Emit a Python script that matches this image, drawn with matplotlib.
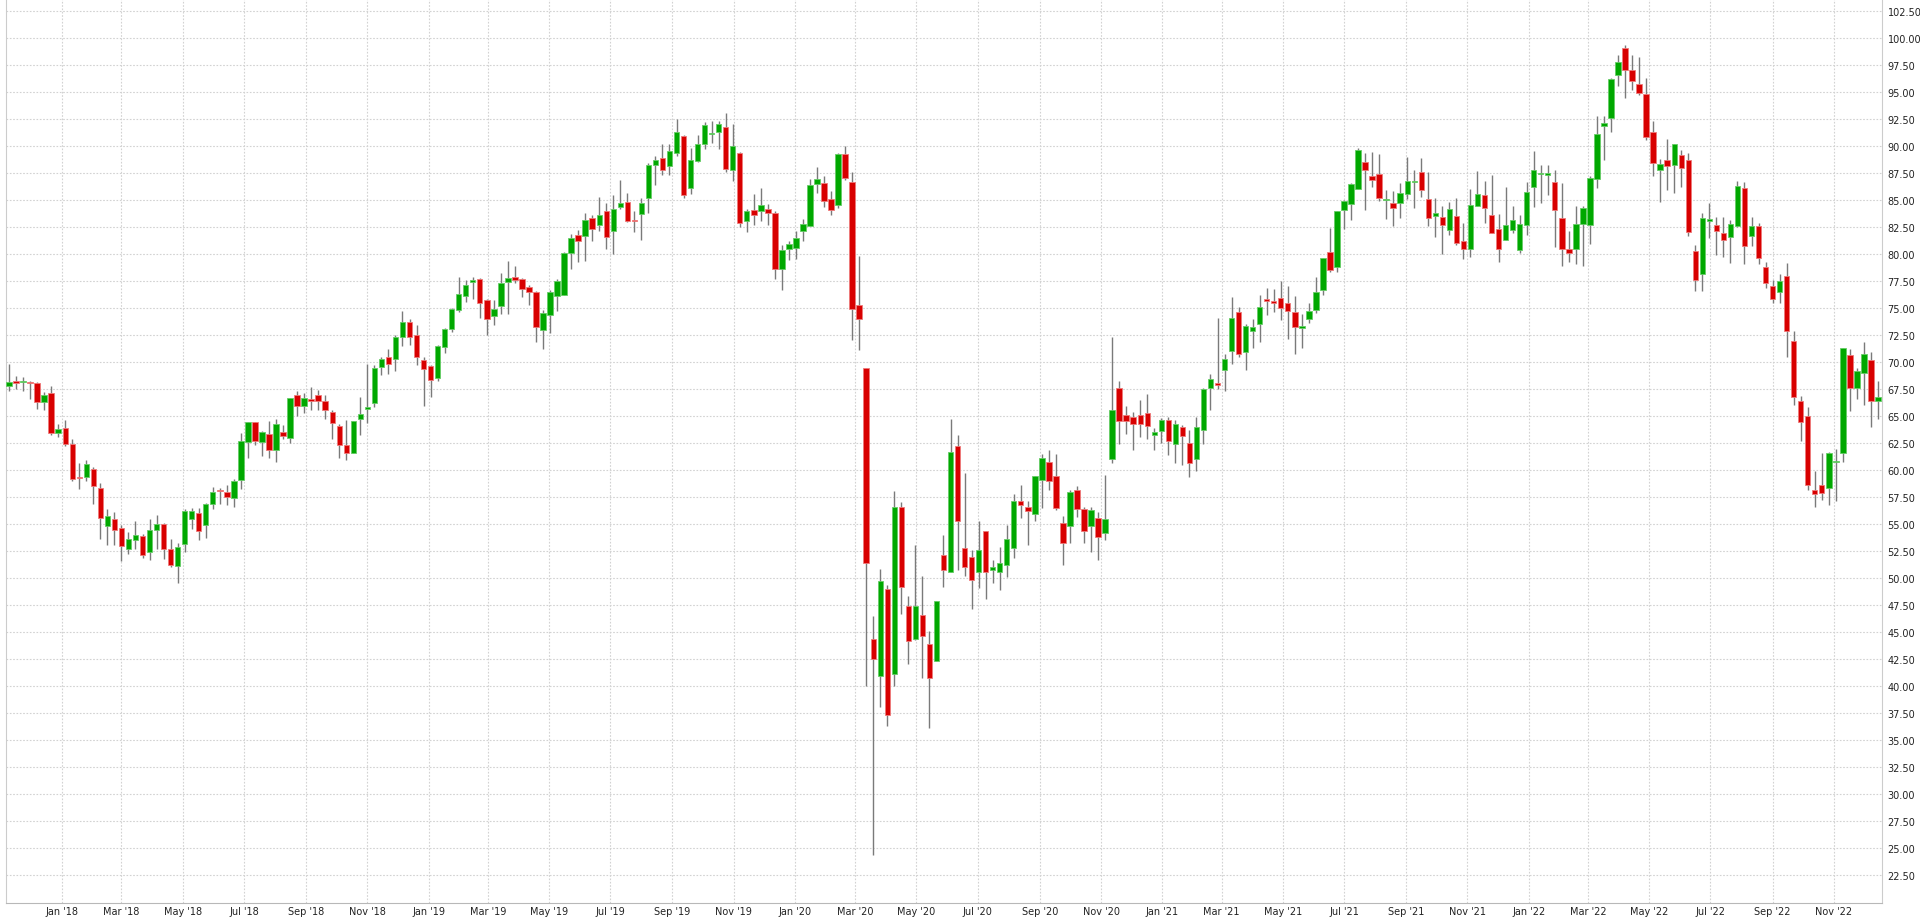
import matplotlib
matplotlib.use('Agg')
import matplotlib.pyplot as plt
import matplotlib.dates as mdates
from matplotlib.ticker import FormatStrFormatter
import numpy as np
import pandas as pd

# weekly candles, Nov 2017 - Dec 2022
week_dates = pd.date_range('2017-11-09', periods=267, freq='7D')

opens = [
    67.75, 68.2, 68.12, 68.18, 68.06, 66.27, 67.1, 63.4, 63.92, 62.38,
    59.32, 59.32, 60.12, 58.36, 54.85, 55.49, 54.6, 52.65, 53.55, 53.89,
    52.4, 54.41, 55.03, 52.65, 51.14, 53.12, 55.43, 56.02, 54.9, 56.82,
    58.15, 57.99, 57.41, 59.1, 62.56, 64.41, 62.62, 63.36, 61.82, 63.52,
    62.99, 66.94, 65.96, 66.51, 66.94, 66.39, 65.37, 64.1, 62.35, 61.54,
    64.69, 65.68, 66.23, 69.51, 70.46, 70.25, 72.31, 73.7, 72.47, 70.19,
    69.6, 68.52, 71.36, 73.09, 74.85, 76.11, 77.4, 77.65, 75.74, 74.23,
    75.15, 77.41, 77.87, 77.65, 76.91, 76.51, 72.93, 74.32, 76.14, 76.17,
    80.06, 81.79, 81.64, 83.3, 82.72, 84.01, 82.1, 84.32, 84.81, 83.09,
    83.73, 85.19, 88.27, 88.89, 88.18, 89.38, 90.96, 86.11, 88.61, 90.22,
    91.08, 91.3, 91.79, 87.81, 89.35, 83.09, 84.1, 83.95, 84.2, 83.77,
    78.64, 80.49, 80.59, 82.1, 82.62, 86.45, 86.6, 85.06, 84.57, 89.29,
    86.7, 75.27, 69.44, 44.35, 40.94, 49.01, 41.08, 56.61, 47.38, 44.35,
    46.59, 43.88, 42.3, 52.1, 50.55, 62.19, 52.78, 51.94, 50.56, 54.32,
    50.77, 50.52, 51.17, 52.78, 57.1, 56.54, 55.9, 59.04, 60.74, 59.44,
    55.06, 54.85, 58.15, 56.39, 54.81, 55.56, 54.14, 61.0, 67.62, 65.06,
    64.91, 65.12, 65.31, 63.21, 63.64, 64.6, 62.38, 63.95, 62.53, 61.02,
    63.73, 67.62, 67.99, 69.23, 71.02, 74.66, 70.9, 72.84, 73.55, 75.77,
    75.68, 75.96, 75.43, 74.66, 73.18, 74.01, 74.85, 76.7, 80.2, 78.77,
    84.04, 84.63, 86.02, 88.49, 87.22, 87.38, 85.0, 84.75, 84.72, 85.59,
    86.64, 87.62, 85.06, 83.55, 83.46, 82.22, 83.55, 81.23, 80.43, 84.48,
    85.49, 83.64, 82.31, 81.33, 82.22, 80.34, 82.69, 86.17, 87.41, 87.35,
    86.67, 83.33, 80.43, 80.49, 82.75, 82.65, 86.98, 91.82, 92.62, 96.54,
    99.07, 97.07, 95.77, 94.81, 91.33, 87.75, 88.7, 88.27, 89.2, 88.67,
    80.25, 78.1, 83.04, 82.66, 81.96, 81.52, 82.55, 86.09, 81.63, 82.61,
    78.75, 77.01, 76.47, 77.99, 71.9, 66.41, 65.0, 58.1, 58.64, 58.32,
    60.71, 61.52, 70.6, 67.55, 68.97, 70.16, 66.41]

highs = [
    69.8, 68.7, 68.64, 68.24, 68.18, 67.2, 67.78, 64.26, 64.66, 62.84,
    60.68, 60.96, 60.3, 58.83, 56.42, 56.11, 54.88, 54.26, 55.25, 54.1,
    55.46, 55.86, 55.1, 53.64, 53.27, 56.42, 56.48, 56.48, 56.97, 58.46,
    58.36, 58.64, 59.2, 63.46, 64.44, 64.44, 63.58, 64.57, 64.72, 64.14,
    66.67, 67.31, 67.16, 67.69, 67.38, 66.91, 65.52, 64.26, 64.66, 64.57,
    66.76, 69.85, 69.75, 70.46, 71.23, 72.47, 74.75, 73.95, 73.4, 70.49,
    69.75, 71.54, 73.15, 75.03, 77.87, 77.56, 77.87, 77.78, 75.8, 75.77,
    78.24, 79.35, 78.89, 77.78, 77.1, 76.6, 74.85, 76.64, 77.72, 80.19,
    81.82, 82.19, 83.83, 83.58, 85.25, 84.75, 85.43, 86.88, 85.65, 83.95,
    85.19, 88.46, 89.04, 90.22, 90.22, 92.47, 91.05, 89.81, 91.05, 92.22,
    92.28, 92.31, 93.09, 92.07, 89.44, 84.2, 85.52, 86.11, 84.66, 83.95,
    80.8, 81.17, 82.16, 83.21, 86.91, 88.09, 87.22, 85.83, 89.38, 89.97,
    87.6, 79.8, 69.44, 46.45, 50.78, 49.38, 58.01, 56.99, 48.31, 53.02,
    50.18, 45.05, 47.85, 54.0, 64.68, 63.27, 59.72, 52.62, 55.28, 54.32,
    51.7, 52.87, 54.88, 57.81, 58.58, 57.16, 59.44, 61.51, 61.82, 61.45,
    55.74, 58.18, 58.52, 56.57, 56.57, 56.11, 59.57, 72.3, 68.24, 65.93,
    65.37, 66.51, 67.07, 63.92, 64.85, 64.91, 64.66, 64.14, 63.7, 64.91,
    67.59, 68.86, 74.1, 70.77, 76.02, 75.06, 73.55, 74.01, 76.17, 76.85,
    76.79, 77.5, 77.04, 76.11, 74.41, 75.49, 77.84, 79.66, 82.38, 84.01,
    85.03, 86.54, 89.78, 89.38, 89.48, 89.23, 85.93, 85.86, 86.54, 88.95,
    87.78, 88.86, 87.62, 85.15, 84.44, 84.85, 85.15, 82.84, 86.02, 87.69,
    86.79, 87.31, 83.7, 86.17, 84.48, 83.61, 86.7, 89.54, 88.27, 88.27,
    87.75, 86.6, 82.16, 84.44, 84.41, 87.22, 92.75, 92.78, 96.3, 98.46,
    99.38, 98.4, 98.24, 96.3, 92.28, 88.83, 90.68, 90.22, 89.66, 89.38,
    80.86, 83.75, 84.73, 83.42, 83.42, 83.1, 86.74, 86.63, 83.42, 82.83,
    79.29, 77.55, 78.1, 79.18, 72.88, 66.85, 65.87, 59.89, 61.52, 61.63,
    61.9, 71.3, 71.2, 69.4, 71.85, 70.87, 68.26]

lows = [
    67.35, 67.53, 67.31, 66.57, 65.68, 65.5, 63.2, 63.0, 62.19, 58.95,
    58.21, 58.95, 56.82, 53.64, 53.02, 53.02, 51.6, 52.25, 52.72, 51.88,
    51.69, 52.72, 51.79, 51.05, 49.54, 52.4, 54.57, 53.49, 53.7, 56.42,
    56.82, 56.73, 56.57, 58.27, 61.11, 62.35, 61.27, 61.11, 60.74, 62.84,
    62.47, 65.0, 65.31, 65.52, 65.56, 64.69, 62.84, 61.14, 60.89, 61.54,
    63.21, 64.38, 65.83, 68.77, 68.92, 69.14, 71.45, 71.54, 69.69, 65.9,
    66.76, 68.21, 70.83, 72.75, 74.63, 75.56, 75.86, 74.07, 72.53, 73.46,
    74.44, 74.41, 77.31, 75.99, 75.25, 71.82, 71.17, 72.72, 74.75, 76.17,
    78.61, 79.26, 79.35, 81.23, 82.13, 80.43, 79.97, 84.17, 82.96, 82.04,
    81.33, 83.8, 86.36, 87.28, 87.35, 89.04, 85.19, 85.59, 88.52, 89.75,
    90.31, 89.75, 87.59, 86.73, 82.47, 82.04, 82.72, 83.02, 82.72, 77.65,
    76.7, 79.48, 79.51, 81.17, 82.62, 85.68, 84.35, 83.64, 84.26, 86.82,
    72.0, 71.07, 40.01, 24.3, 38.05, 36.28, 40.01, 46.68, 42.06, 44.25,
    40.76, 36.09, 42.3, 49.15, 50.55, 50.7, 50.15, 47.16, 49.1, 48.02,
    49.51, 48.86, 50.09, 51.88, 55.56, 53.02, 55.25, 56.48, 58.18, 56.27,
    51.17, 53.27, 55.65, 53.24, 52.41, 51.64, 53.49, 60.6, 62.38, 63.36,
    61.82, 63.06, 62.84, 61.82, 62.5, 61.36, 60.68, 60.43, 59.35, 59.88,
    62.44, 65.59, 67.53, 67.31, 69.85, 70.46, 69.23, 71.3, 71.85, 74.38,
    74.63, 73.86, 72.16, 70.71, 71.33, 73.61, 74.57, 76.17, 78.36, 78.3,
    82.31, 83.15, 86.02, 84.07, 86.23, 84.91, 83.24, 82.62, 83.36, 85.09,
    84.23, 85.31, 82.59, 81.6, 80.0, 81.76, 80.83, 79.51, 79.75, 84.48,
    82.9, 81.98, 79.23, 81.33, 81.91, 80.06, 81.76, 84.35, 84.72, 85.43,
    80.62, 78.89, 79.26, 79.04, 78.89, 80.96, 86.14, 88.67, 91.3, 95.52,
    94.48, 95.15, 94.69, 90.52, 87.19, 84.81, 85.96, 85.65, 86.2, 81.64,
    76.54, 76.58, 81.47, 79.89, 79.73, 79.18, 82.45, 79.08, 80.71, 79.08,
    76.85, 75.49, 75.49, 70.49, 65.98, 62.66, 58.1, 56.58, 57.23, 56.74,
    57.12, 60.71, 65.43, 66.58, 65.98, 63.97, 64.68]

closes = [
    68.12, 68.02, 68.27, 68.02, 66.33, 66.94, 63.4, 63.8, 62.38, 59.2,
    59.26, 60.56, 58.49, 55.52, 55.77, 54.41, 52.96, 53.58, 54.0, 52.1,
    54.41, 55.03, 52.65, 51.17, 52.87, 56.17, 56.23, 54.32, 56.88, 57.99,
    58.02, 57.53, 59.01, 62.65, 64.41, 62.68, 63.49, 61.85, 64.29, 63.15,
    66.67, 65.96, 66.7, 66.42, 66.42, 65.52, 64.32, 62.28, 61.6, 64.51,
    65.15, 65.8, 69.44, 70.31, 69.78, 72.28, 73.7, 72.31, 70.43, 69.38,
    68.3, 71.45, 73.0, 74.91, 76.3, 77.16, 77.56, 75.46, 74.01, 74.94,
    77.28, 77.81, 77.59, 76.73, 76.48, 73.24, 74.51, 76.45, 77.53, 80.06,
    81.51, 81.2, 83.18, 82.28, 83.61, 81.54, 84.17, 84.72, 83.02, 83.02,
    84.72, 88.24, 88.73, 87.75, 89.54, 91.33, 85.49, 88.73, 90.22, 91.91,
    91.17, 92.07, 87.9, 90.0, 82.87, 83.95, 83.64, 84.54, 83.77, 78.64,
    80.34, 80.93, 81.48, 82.78, 86.36, 86.94, 84.88, 84.1, 89.29, 87.07,
    74.9, 74.01, 51.39, 42.53, 49.71, 37.35, 56.61, 49.15, 44.16, 47.38,
    44.63, 40.76, 47.85, 50.74, 61.65, 55.28, 51.02, 49.78, 52.62, 50.59,
    50.99, 51.42, 53.58, 57.16, 56.79, 56.17, 59.44, 61.11, 58.95, 56.51,
    53.27, 57.93, 56.39, 54.32, 56.27, 53.8, 55.46, 65.52, 64.57, 64.54,
    64.23, 64.29, 64.04, 63.49, 64.6, 62.69, 64.23, 63.12, 60.65, 63.98,
    67.5, 68.4, 67.9, 70.25, 74.1, 70.74, 73.33, 73.21, 75.09, 75.68,
    75.49, 75.03, 74.69, 73.21, 73.27, 74.75, 76.45, 79.66, 78.52, 84.01,
    84.91, 86.45, 89.66, 87.78, 86.88, 85.22, 85.09, 84.23, 85.65, 86.79,
    86.73, 85.9, 83.33, 83.8, 82.69, 84.14, 81.05, 80.43, 84.57, 85.56,
    84.23, 81.98, 80.43, 82.72, 83.18, 82.81, 85.77, 87.81, 87.47, 87.44,
    84.04, 80.43, 80.09, 82.81, 84.26, 87.07, 91.14, 92.13, 96.2, 97.78,
    97.01, 96.05, 94.94, 90.83, 88.46, 88.3, 88.12, 90.15, 87.96, 82.04,
    77.62, 83.32, 83.2, 82.12, 81.3, 82.77, 86.25, 80.71, 82.55, 79.62,
    77.28, 75.82, 77.5, 72.83, 66.74, 64.46, 58.64, 57.77, 57.88, 61.52,
    60.87, 71.25, 67.55, 69.18, 70.71, 66.41, 66.74]

UP_COLOR = '#00a800'
DOWN_COLOR = '#d80000'

o = np.array(opens)
h = np.array(highs)
l = np.array(lows)
c = np.array(closes)
x = mdates.date2num(week_dates)

up = c >= o
body_bottom = np.minimum(o, c)
body_height = np.maximum(np.abs(c - o), 0.12)

fig = plt.figure(figsize=(19.2, 9.2), dpi=100)
ax = fig.add_axes([6 / 1920, 16 / 920, 1876 / 1920, 904 / 920])

ax.vlines(x, l, h, color='#7a7a7a', lw=1, zorder=2)
ax.bar(x[up], body_height[up], bottom=body_bottom[up], width=5.4,
       color=UP_COLOR, edgecolor='#66cc66', lw=0.6, zorder=3)
ax.bar(x[~up], body_height[~up], bottom=body_bottom[~up], width=5.4,
       color=DOWN_COLOR, edgecolor='#ee7a7a', lw=0.6, zorder=3)

ax.set_xlim(mdates.date2num(pd.Timestamp('2017-11-06')),
            mdates.date2num(pd.Timestamp('2022-12-19')))
ax.set_ylim(19.9, 103.6)

ax.xaxis.set_major_locator(mdates.MonthLocator(bymonth=[1, 3, 5, 7, 9, 11]))
ax.xaxis.set_major_formatter(mdates.DateFormatter("%b '%y"))
ax.set_yticks(np.arange(22.5, 102.51, 2.5))
ax.yaxis.set_major_formatter(FormatStrFormatter('%.2f'))
ax.yaxis.tick_right()

ax.tick_params(axis='both', length=0, labelsize=7, colors='#222222')
ax.tick_params(axis='y', pad=4)
ax.tick_params(axis='x', pad=2)

ax.grid(True, color='#d2d2d2', linestyle=(0, (1.5, 1.5)), lw=0.8, zorder=0)
ax.set_axisbelow(True)

ax.spines['top'].set_visible(False)
ax.spines['left'].set_color('#cccccc')
ax.spines['right'].set_color('#cccccc')
ax.spines['bottom'].set_color('#b8b8b8')

fig.savefig('out.png', dpi=100)
